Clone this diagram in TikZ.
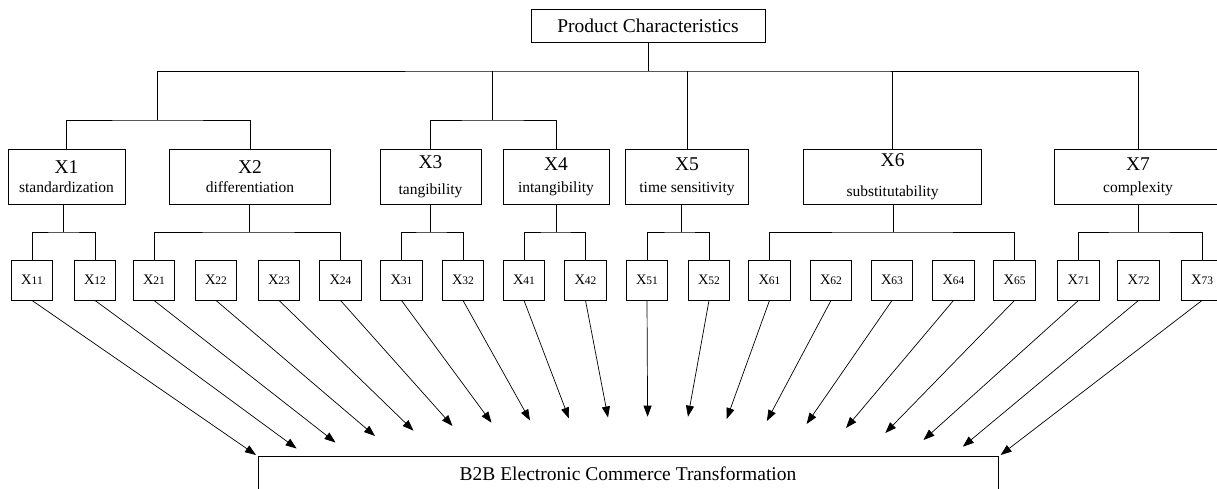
\documentclass[tikz,border=0pt]{standalone}
\usepackage{fontspec}
\setmainfont{Liberation Serif}
\usetikzlibrary{arrows.meta}

\newcommand{\xhead}[1]{{\fontsize{19.5}{22}\selectfont #1}}
\newcommand{\leafx}[1]{X{\fontsize{11.5}{11}\selectfont #1}}

\tikzset{
  rootbox/.style={draw, minimum width=234pt, minimum height=33pt, inner sep=0pt, font=\fontsize{19.5}{22}\selectfont},
  midbox/.style={draw, minimum height=55pt, inner sep=0pt, align=center, font=\fontsize{15.5}{22}\selectfont},
  leafbox/.style={draw, minimum width=41.5pt, minimum height=40pt, inner sep=0pt, font=\fontsize{14.5}{16}\selectfont},
  basebox/.style={draw, minimum width=740pt, minimum height=36pt, inner sep=0pt, font=\fontsize{19.5}{22}\selectfont},
  feed/.style={-{Triangle[length=11pt,width=8pt]}, line width=0.7pt}
}

\begin{document}
\begin{tikzpicture}[x=1pt, y=-1pt, line width=0.9pt]
        \useasboundingbox (0,0) rectangle (1217,489);
        \clip (0,0) rectangle (1217,489);

        % the root
        \node[rootbox] (pc) at (648,25.5) {Product Characteristics};

        % the seven characteristics
        \node[midbox, minimum width=117pt] (x1) at (66.5,176.5) {\xhead{X1}\\[-3pt]standardization};
        \node[midbox, minimum width=161.6pt] (x2) at (250,176.5) {\xhead{X2}\\[-3pt]differentiation};
        \node[midbox, minimum width=101pt] (x3) at (430.5,176.5) {\xhead{X3}\\[4pt]tangibility};
        \node[midbox, minimum width=106pt] (x4) at (556,176.5) {\xhead{X4}\\intangibility};
        \node[midbox, minimum width=122.8pt] (x5) at (687,176.5) {\xhead{X5}\\time sensitivity};
        \node[midbox, minimum width=178.2pt] (x6) at (892.6,176.5) {\xhead{X6}\\[8pt]substitutability};
        \node[midbox, minimum width=167pt] (x7) at (1138,176.5) {\xhead{X7}\\complexity};

        % the indicators
        \node[leafbox] (x11) at (32,280) {\leafx{11}};
        \node[leafbox] (x12) at (95,280) {\leafx{12}};
        \node[leafbox] (x21) at (154,280) {\leafx{21}};
        \node[leafbox] (x22) at (216,280) {\leafx{22}};
        \node[leafbox] (x23) at (279,280) {\leafx{23}};
        \node[leafbox] (x24) at (340.5,280) {\leafx{24}};
        \node[leafbox] (x31) at (401.5,280) {\leafx{31}};
        \node[leafbox] (x32) at (463,280) {\leafx{32}};
        \node[leafbox] (x41) at (524,280) {\leafx{41}};
        \node[leafbox] (x42) at (585.5,280) {\leafx{42}};
        \node[leafbox] (x51) at (647,280) {\leafx{51}};
        \node[leafbox] (x52) at (709,280) {\leafx{52}};
        \node[leafbox] (x61) at (769.5,280) {\leafx{61}};
        \node[leafbox] (x62) at (831,280) {\leafx{62}};
        \node[leafbox] (x63) at (892,280) {\leafx{63}};
        \node[leafbox] (x64) at (953.5,280) {\leafx{64}};
        \node[leafbox] (x65) at (1014.5,280) {\leafx{65}};
        \node[leafbox] (x71) at (1078.5,280) {\leafx{71}};
        \node[leafbox] (x72) at (1138.5,280) {\leafx{72}};
        \node[leafbox] (x73) at (1202,280) {\leafx{73}};

        % the target (cut off at the bottom)
        \node[basebox] (b2b) at (628,474) {B2B Electronic Commerce Transformation};

        % the junctions of the tree
        \coordinate (j0) at (648,71);
        \coordinate (j12) at (157,120);
        \coordinate (j34) at (492,120);
        \coordinate (b1) at (63.5,232);
        \coordinate (b2) at (249.5,232);
        \coordinate (b3) at (430.6,232);
        \coordinate (b4) at (556.7,232);
        \coordinate (b5) at (681,232);
        \coordinate (b6) at (893,232);
        \coordinate (b7) at (1138,232);

        % the upper tree
        \draw (pc) -- (j0);
        \draw (j12) |- (j0) -| (x7.north);
        \draw (j34) -- (j34 |- j0);
        \draw (x5.north) -- (x5.north |- j0);
        \draw (x6.north) -- (x6.north |- j0);
        \draw (x1.north) |- (j12) -| (x2.north);
        \draw (x3.north) |- (j34) -| (x4.north);

        % the lower tree
        \draw (x11.north) |- (b1) -| (x12.north);
        \draw (b1) -- (b1 |- x1.south);
        \draw (x21.north) |- (b2) -| (x24.north);
        \draw (b2) -- (b2 |- x2.south);
        \draw (x31.north) |- (b3) -| (x32.north);
        \draw (b3) -- (b3 |- x3.south);
        \draw (x41.north) |- (b4) -| (x42.north);
        \draw (b4) -- (b4 |- x4.south);
        \draw (x51.north) |- (b5) -| (x52.north);
        \draw (b5) -- (b5 |- x5.south);
        \draw (x61.north) |- (b6) -| (x65.north);
        \draw (b6) -- (b6 |- x6.south);
        \draw (x71.north) |- (b7) -| (x73.north);
        \draw (b7) -- (b7 |- x7.south);

        % the arrow ends above the target
        \coordinate (t11) at (256,455);
        \coordinate (t12) at (296.6,448.5);
        \coordinate (t21) at (335.5,442.5);
        \coordinate (t22) at (375,436);
        \coordinate (t23) at (413.5,430.7);
        \coordinate (t24) at (452.5,426);
        \coordinate (t31) at (491.5,422.7);
        \coordinate (t32) at (530,420.5);
        \coordinate (t41) at (569,418.5);
        \coordinate (t42) at (608,417.5);
        \coordinate (t51) at (647.6,416.7);
        \coordinate (t52) at (688,416.7);
        \coordinate (t61) at (726.7,419);
        \coordinate (t62) at (766.9,421);
        \coordinate (t63) at (806.6,424);
        \coordinate (t64) at (846,428);
        \coordinate (t65) at (885.3,433);
        \coordinate (t71) at (923.5,440);
        \coordinate (t72) at (962.8,446.7);
        \coordinate (t73) at (1000.6,455);

        % draw the arrows
        \draw[feed] (x11.south) -- (t11);
        \draw[feed] (x12.south) -- (t12);
        \draw[feed] (x21.south) -- (t21);
        \draw[feed] (x22.south) -- (t22);
        \draw[feed] (x23.south) -- (t23);
        \draw[feed] (x24.south) -- (t24);
        \draw[feed] (x31.south) -- (t31);
        \draw[feed] (x32.south) -- (t32);
        \draw[feed] (x41.south) -- (t41);
        \draw[feed] (x42.south) -- (t42);
        \draw[feed] (x51.south) -- (t51);
        \draw[feed] (x52.south) -- (t52);
        \draw[feed] (x61.south) -- (t61);
        \draw[feed] (x62.south) -- (t62);
        \draw[feed] (x63.south) -- (t63);
        \draw[feed] (x64.south) -- (t64);
        \draw[feed] (x65.south) -- (t65);
        \draw[feed] (x71.south) -- (t71);
        \draw[feed] (x72.south) -- (t72);
        \draw[feed] (x73.south) -- (t73);

    \end{tikzpicture}
\end{document}
